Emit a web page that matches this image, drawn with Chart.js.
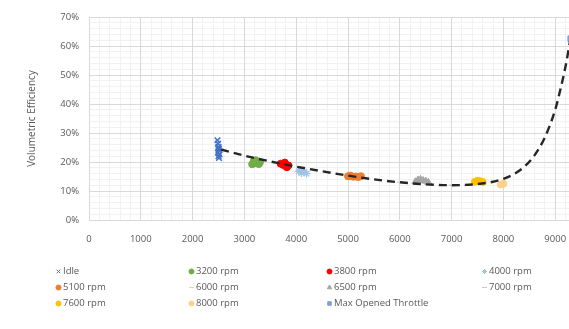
<!DOCTYPE html>
<html><head><meta charset="utf-8">
<script src="https://cdn.jsdelivr.net/npm/chart.js@4.4.1/dist/chart.umd.min.js"></script>
<style>
html,body{margin:0;padding:0;background:#fff;overflow:hidden;width:569px;height:329px;}
#wrap{position:absolute;left:0;top:0;width:625px;height:255px;}
#legend{position:absolute;left:0;top:0;width:569px;height:329px;font-family:"Open Sans",sans-serif;font-size:9.5px;color:#595959;}
.item{position:absolute;white-space:nowrap;line-height:12px;height:12px;display:flex;align-items:center;}
.item canvas{margin-right:1px;}
</style></head><body>
<div id="wrap"><canvas id="c"></canvas></div>
<div id="legend"></div>
<script>
// ---- data ----
const seriesNames = ["Idle","3200 rpm","3800 rpm","4000 rpm","5100 rpm","6000 rpm","6500 rpm","7000 rpm","7600 rpm","8000 rpm","Max Opened Throttle"];
const idleRpm = [2480,2490,2500,2510,2500,2490,2520,2500,2510,2495];
const idleVE  = [27.5,26.3,25.2,24.5,24.0,23.2,22.6,22.0,21.4,24.8];
const rpm3200 = [3150,3200,3250,3300,3180,3280,3220];
const ve3200  = [19.2,19.8,19.5,19.9,20.3,19.3,20.6];
const rpm3800 = [3700,3750,3800,3850,3780,3820];
const ve3800  = [19.4,19.0,18.6,18.8,19.8,18.2];
const rpm4000 = [4050,4100,4150,4200,4080];
const ve4000  = [16.8,16.2,16.6,16.0,17.2];
const rpm5100 = [5000,5050,5100,5150,5200,5250];
const ve5100  = [15.1,15.3,14.9,15.0,14.8,15.1];
const rpm6000 = [6000,6050];
const ve6000  = [13.1,13.0];
const rpm6500 = [6300,6350,6400,6450,6500,6550];
const ve6500  = [13.2,13.8,14.0,13.6,13.4,13.0];
const rpm7000 = [7000,7050];
const ve7000  = [12.0,12.0];
const rpm7600 = [7450,7500,7550,7600];
const ve7600  = [13.2,13.5,13.4,13.1];
const rpm8000 = [7950,8000];
const ve8000  = [12.2,12.5];
const rpmWOT  = [9300];
const veWOT   = [62.5];
const trendRpm = [2550,3000,3500,4000,4500,5000,5500,6000,6500,7000,7500,7800,8000,8200,8400,8600,8800,9000,9100,9200,9300,9350];
const trendVE  = [24.3,22.2,20.2,18.4,16.8,15.3,14.0,13.0,12.3,12.0,12.4,13.2,14.2,15.8,18.3,22.3,28.5,38,45,53,63,68];
const yTicks = [0,10,20,30,40,50,60,70];
const xTicks = [0,1000,2000,3000,4000,5000,6000,7000,8000,9000,10000];

// ---- styles ----
const styles = [
  {color:"#4472C4", pointStyle:"crossRot", r:4, bw:1.5, fill:false},
  {color:"#70AD47", pointStyle:"circle", r:3.5, bw:1, fill:true},
  {color:"#FF0000", pointStyle:"circle", r:3.5, bw:1, fill:true},
  {color:"#9DC3E6", pointStyle:"star", r:4, bw:1.2, fill:false},
  {color:"#ED7D31", pointStyle:"circle", r:3.5, bw:1, fill:true},
  {color:"#F8CBAD", pointStyle:"line", r:3, bw:1.2, fill:false},
  {color:"#A5A5A5", pointStyle:"triangle", r:4, bw:1, fill:true},
  {color:"#C9C9C9", pointStyle:"line", r:3, bw:1.2, fill:false},
  {color:"#FFC000", pointStyle:"circle", r:3.5, bw:1, fill:true},
  {color:"#FFD08A", pointStyle:"circle", r:3.5, bw:1, fill:true},
  {color:"#7F9FD9", pointStyle:"rect", r:4, bw:1, fill:true}
];
const xs = [idleRpm,rpm3200,rpm3800,rpm4000,rpm5100,rpm6000,rpm6500,rpm7000,rpm7600,rpm8000,rpmWOT];
const ys = [idleVE,ve3200,ve3800,ve4000,ve5100,ve6000,ve6500,ve7000,ve7600,ve8000,veWOT];

const datasets = [{
  label:"trend",
  data: trendRpm.map((x,i)=>({x, y:trendVE[i]})),
  showLine:true, borderColor:"#262626", borderWidth:2.4, borderDash:[8,5],
  pointRadius:0, tension:0.4, cubicInterpolationMode:"monotone", fill:false,
  xAxisID:"x", yAxisID:"y"
}];
seriesNames.forEach((n,i)=>{
  const s = styles[i];
  datasets.push({
    label:n,
    data: xs[i].map((x,j)=>({x, y:ys[i][j]})),
    showLine:false,
    pointStyle:s.pointStyle, pointRadius:s.r, pointBorderWidth:s.bw,
    borderColor:s.color, backgroundColor:s.fill? s.color : "rgba(0,0,0,0)",
    pointBackgroundColor:s.fill? s.color : "rgba(0,0,0,0)", pointBorderColor:s.color,
    xAxisID:"x", yAxisID:"y"
  });
});

const tickFont = {family:"'Open Sans', sans-serif", size:9.5};
const gridMajor = "#d9d9d9", gridMinor = "#f2f2f2";

new Chart(document.getElementById("c"), {
  type:"scatter",
  data:{datasets},
  options:{
    responsive:true, maintainAspectRatio:false, animation:false,
    layout:{padding:{left:26,right:18,top:17,bottom:0}},
    plugins:{legend:{display:false}, tooltip:{enabled:false}},
    scales:{
      xMinor:{type:"linear", position:"bottom", min:0, max:10000,
        ticks:{display:false, stepSize:200}, grid:{color:gridMinor, drawTicks:false, z:-2},
        border:{display:false},
        afterFit(s){s.height=0; s.paddingLeft=0; s.paddingRight=0;}},
      yMinor:{type:"linear", position:"left", min:0, max:70,
        ticks:{display:false, stepSize:2}, grid:{color:gridMinor, drawTicks:false, z:-2},
        border:{display:false},
        afterFit(s){s.width=0; s.paddingTop=0; s.paddingBottom=0;}},
      x:{type:"linear", position:"bottom", min:0, max:10000,
        afterBuildTicks(s){s.ticks = xTicks.map(v=>({value:v}));},
        ticks:{color:"#595959", font:tickFont, padding:14, maxRotation:0, callback:v=>String(v)},
        grid:{color:gridMajor, drawTicks:false},
        border:{display:true, color:gridMajor},
        afterFit(s){s.height=35; s.paddingLeft=0; s.paddingRight=0;}},
      y:{type:"linear", position:"left", min:0, max:70,
        afterBuildTicks(s){s.ticks = yTicks.map(v=>({value:v}));},
        ticks:{color:"#595959", font:tickFont, padding:10, callback:v=>v+"%"},
        grid:{color:gridMajor, drawTicks:false},
        border:{display:false},
        title:{display:true, text:"Volumetric Efficiency", color:"#595959", font:{family:"'Open Sans', sans-serif", size:10}, padding:{top:0,bottom:4}},
        afterFit(s){s.width=63; s.paddingTop=0; s.paddingBottom=0;}}
    }
  }
});

// ---- HTML legend ----
const colX = [55, 188, 326, 481];
const rowY = [271, 287, 303];
const leg = document.getElementById("legend");
seriesNames.forEach((n,i)=>{
  const s = styles[i];
  const col = i % 4, row = Math.floor(i/4);
  const d = document.createElement("div");
  d.className = "item";
  d.style.left = colX[col] + "px";
  d.style.top = (rowY[row]-6) + "px";
  const cv = document.createElement("canvas");
  cv.width = 7; cv.height = 7;
  const ctx = cv.getContext("2d");
  ctx.fillStyle = s.color; ctx.strokeStyle = s.color; ctx.lineWidth = 1;
  Chart.helpers.drawPoint(ctx, {pointStyle:s.pointStyle, radius:2.5, rotation:0, borderWidth:1}, 3.5, 3.5);
  d.appendChild(cv);
  const t = document.createElement("span");
  t.textContent = n;
  d.appendChild(t);
  leg.appendChild(d);
});
</script>
</body></html>
